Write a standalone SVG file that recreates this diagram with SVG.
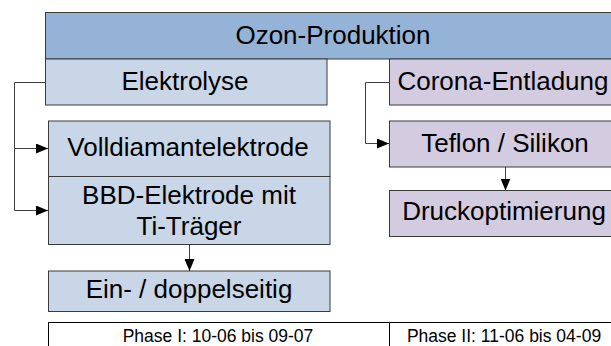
<svg xmlns="http://www.w3.org/2000/svg" width="611" height="346" viewBox="0 0 611 346">
  <defs>
    <marker id="arrow" viewBox="0 0 12 10" refX="12" refY="5" markerWidth="12" markerHeight="10" markerUnits="userSpaceOnUse" orient="auto">
      <path d="M0,0 L12,5 L0,10 Z" fill="#000"/>
    </marker>
  </defs>
  <style>
    .box { stroke: #3a3a3a; stroke-width: 1; }
    .head { fill: #95b3d7; }
    .blue { fill: #c8d6e7; }
    .violet { fill: #d3cbe0; }
    .phase { fill: #fff; stroke: #000; stroke-width: 1; }
    .lbl { font-family: "Liberation Sans", Arial, sans-serif; font-size: 26px; fill: #000; text-anchor: middle; }
    .small { font-family: "Liberation Sans", Arial, sans-serif; font-size: 17.5px; fill: #000; text-anchor: middle; }
    .conn { fill: none; stroke: #404040; stroke-width: 1; }
  </style>

  <g id="ozon-produktion">
    <rect class="box head" x="45.5" y="12.5" width="576" height="46.5"/>
    <text class="lbl" x="333" y="43.5">Ozon-Produktion</text>
  </g>

  <g id="elektrolyse">
    <rect class="box blue" x="45.5" y="59" width="281.5" height="46"/>
    <text class="lbl" x="185" y="90">Elektrolyse</text>
  </g>

  <g id="corona-entladung">
    <rect class="box violet" x="389.5" y="59" width="232" height="46"/>
    <text class="lbl" x="503" y="90">Corona-Entladung</text>
  </g>

  <g id="volldiamantelektrode">
    <rect class="box blue" x="48.5" y="121" width="281.5" height="55.5"/>
    <text class="lbl" x="188" y="156">Volldiamantelektrode</text>
  </g>

  <g id="bbd-elektrode">
    <rect class="box blue" x="48.5" y="176.5" width="281.5" height="68"/>
    <text class="lbl" x="189" y="203.5">BBD-Elektrode mit</text>
    <text class="lbl" x="189" y="234.5">Ti-Träger</text>
  </g>

  <g id="ein-doppelseitig">
    <rect class="box blue" x="48.5" y="271" width="281.5" height="40.5"/>
    <text class="lbl" x="189" y="297.5">Ein- / doppelseitig</text>
  </g>

  <g id="teflon-silikon">
    <rect class="box violet" x="389.5" y="121" width="232" height="46"/>
    <text class="lbl" x="505" y="151.5">Teflon / Silikon</text>
  </g>

  <g id="druckoptimierung">
    <rect class="box violet" x="389.5" y="190.5" width="232" height="46"/>
    <text class="lbl" x="504" y="220">Druckoptimierung</text>
  </g>

  <g id="phasen">
    <rect class="phase" x="48.5" y="322.5" width="580" height="40"/>
    <line class="phase" x1="389.5" y1="322.5" x2="389.5" y2="346"/>
    <text class="small" x="218" y="342">Phase I: 10-06 bis 09-07</text>
    <text class="small" x="504" y="342">Phase II: 11-06 bis 04-09</text>
  </g>

  <g id="connectors">
    <path class="conn" d="M45.5,82.5 H14.5 V148.5 H48" marker-end="url(#arrow)"/>
    <path class="conn" d="M14.5,148.5 V210.5 H48" marker-end="url(#arrow)"/>
    <path class="conn" d="M389.5,82.5 H365.5 V143.5 H389" marker-end="url(#arrow)"/>
    <path class="conn" d="M189.5,244.5 V271" marker-end="url(#arrow)"/>
    <path class="conn" d="M505.5,167 V190.5" marker-end="url(#arrow)"/>
  </g>
</svg>
